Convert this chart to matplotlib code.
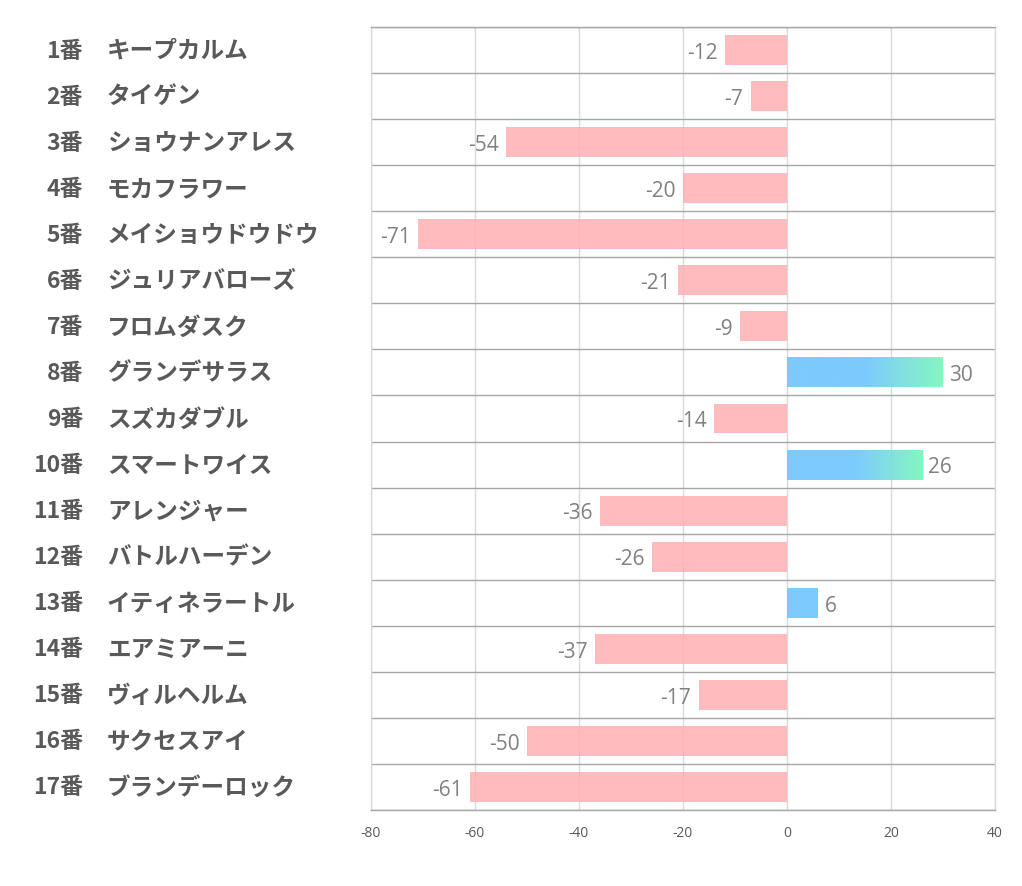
import matplotlib
matplotlib.use("Agg")
import matplotlib.pyplot as plt
import matplotlib.transforms as mtransforms
from matplotlib.colors import LinearSegmentedColormap
from matplotlib.patches import Rectangle
import numpy as np

plt.rcParams['font.family'] = ['Noto Sans CJK JP', 'DejaVu Sans']

numbers = ["1番", "2番", "3番", "4番", "5番", "6番", "7番", "8番", "9番", "10番",
           "11番", "12番", "13番", "14番", "15番", "16番", "17番"]
names = ["キープカルム", "タイゲン", "ショウナンアレス", "モカフラワー", "メイショウドウドウ",
         "ジュリアバローズ", "フロムダスク", "グランデサラス", "スズカダブル", "スマートワイス",
         "アレンジャー", "バトルハーデン", "イティネラートル", "エアミアーニ", "ヴィルヘルム",
         "サクセスアイ", "ブランデーロック"]
values = [-12, -7, -54, -20, -71, -21, -9, 30, -14, 26, -36, -26, 6, -37, -17, -50, -61]
xticks = [-80, -60, -40, -20, 0, 20, 40]

W, H = 1022, 887
fig = plt.figure(figsize=(W / 100, H / 100), dpi=100)
ax = fig.add_axes([371 / W, 1 - 811 / H, (995 - 371) / W, (811 - 28) / H])

n = len(values)
ypos = np.arange(n)
bar_h = 0.65
pink = (1.0, 175 / 255, 179 / 255)
blue = "#79C9FF"
cmap = LinearSegmentedColormap.from_list(
    "bg", [(0.0, blue), (0.5, blue), (1.0, "#80F7BE")])

for y, v in zip(ypos, values):
    if v < 0:
        ax.barh(y, v, height=bar_h, color=pink, alpha=0.85, zorder=3, linewidth=0)
        ax.text(v - 1.4, y + 0.05, str(v), ha='right', va='center',
                fontsize=15, color='#808080', zorder=4, family='Open Sans')
    else:
        if v > 10:
            rect = Rectangle((0, y - bar_h / 2), v, bar_h, facecolor='none',
                             edgecolor='none', zorder=3)
            ax.add_patch(rect)
            grad = np.linspace(0, 1, 256).reshape(1, -1)
            im = ax.imshow(grad, cmap=cmap, aspect='auto',
                           extent=[0, v, y + bar_h / 2, y - bar_h / 2],
                           zorder=3, alpha=0.97, interpolation='bilinear')
            im.set_clip_path(rect)
        else:
            ax.barh(y, v, height=bar_h, color=blue, alpha=0.97, zorder=3,
                    linewidth=0)
        ax.text(v + 1.2, y + 0.05, str(v), ha='left', va='center',
                fontsize=15, color='#808080', zorder=4, family='Open Sans')

ax.set_xlim(-80, 40)
ax.set_ylim(n - 0.5, -0.5)
ax.set_xticks(xticks)
ax.set_xticklabels([str(t) for t in xticks], fontsize=10, color='#595959',
                   family='Open Sans')
ax.set_yticks([])
ax.set_yticks(np.arange(n + 1) - 0.5, minor=True)
ax.tick_params(axis='x', length=0, pad=11)
ax.tick_params(axis='y', which='both', length=0, labelleft=False)
ax.grid(axis='x', which='major', color='#D9D9D9', linewidth=1, zorder=0)
ax.grid(axis='y', which='minor', color='#A6A6A6', linewidth=1, zorder=1)
ax.set_axisbelow(True)
for side in ['left', 'right']:
    ax.spines[side].set_color('#D9D9D9')
    ax.spines[side].set_linewidth(1)
for side in ['top', 'bottom']:
    ax.spines[side].set_color('#A6A6A6')
    ax.spines[side].set_linewidth(1)

trans = mtransforms.blended_transform_factory(fig.transFigure, ax.transData)
for y, num, name in zip(ypos, numbers, names):
    ax.text(83 / W, y, num, transform=trans, ha='right', va='center',
            fontsize=16.5, fontweight='bold', color='#595959')
    ax.text(107 / W, y, name, transform=trans, ha='left', va='center',
            fontsize=17, fontweight='bold', color='#595959')

fig.savefig("out.png", dpi=100, facecolor='white')
